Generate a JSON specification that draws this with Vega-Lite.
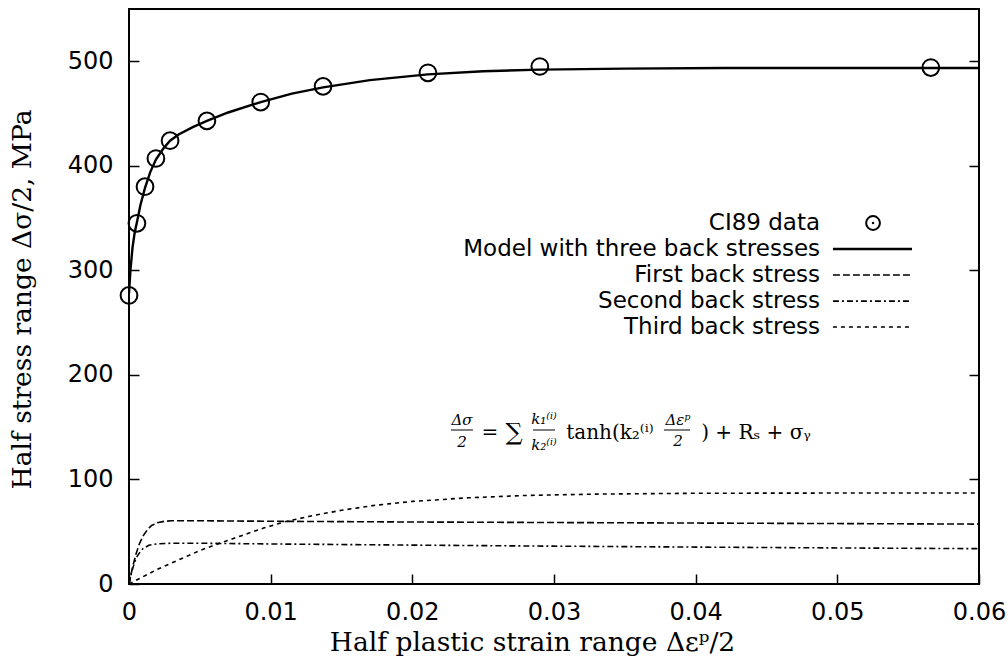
{
  "$schema": "https://vega.github.io/schema/vega-lite/v6.json",
  "width": 850,
  "height": 575,
  "autosize": {"type": "none"},
  "padding": {"left": 129, "top": 9, "right": 28, "bottom": 75},
  "background": "white",
  "config": {
    "view": {"stroke": "black", "strokeWidth": 2},
    "axis": {
      "domain": false,
      "grid": false,
      "labelFlush": false,
      "labelOverlap": false,
      "tickColor": "black",
      "tickWidth": 1.5,
      "tickSize": -10,
      "labelFont": "DejaVu Sans",
      "labelFontSize": 24,
      "labelColor": "black",
      "titleFont": "DejaVu Serif",
      "titleFontSize": 26.5,
      "titleFontWeight": "normal",
      "titleColor": "black"
    }
  },
  "datasets": {
    "points": [
      {"strain": 0.0, "stress": 276},
      {"strain": 0.00056, "stress": 345},
      {"strain": 0.00113, "stress": 380},
      {"strain": 0.0019, "stress": 407},
      {"strain": 0.0029, "stress": 424},
      {"strain": 0.0055, "stress": 443},
      {"strain": 0.0093, "stress": 461},
      {"strain": 0.0137, "stress": 476},
      {"strain": 0.0211, "stress": 489},
      {"strain": 0.029, "stress": 495},
      {"strain": 0.0566, "stress": 494}
    ],
    "curves": [
      {"series": "Model with three back stresses", "strain": 0.0, "stress": 278},
      {"series": "Model with three back stresses", "strain": 0.0001, "stress": 300},
      {"series": "Model with three back stresses", "strain": 0.00025, "stress": 322},
      {"series": "Model with three back stresses", "strain": 0.0004, "stress": 336},
      {"series": "Model with three back stresses", "strain": 0.00056, "stress": 346},
      {"series": "Model with three back stresses", "strain": 0.0008, "stress": 362},
      {"series": "Model with three back stresses", "strain": 0.00113, "stress": 379},
      {"series": "Model with three back stresses", "strain": 0.0015, "stress": 394},
      {"series": "Model with three back stresses", "strain": 0.0019, "stress": 406},
      {"series": "Model with three back stresses", "strain": 0.0024, "stress": 416},
      {"series": "Model with three back stresses", "strain": 0.0029, "stress": 424},
      {"series": "Model with three back stresses", "strain": 0.0035, "stress": 430},
      {"series": "Model with three back stresses", "strain": 0.0045, "stress": 437},
      {"series": "Model with three back stresses", "strain": 0.0055, "stress": 443},
      {"series": "Model with three back stresses", "strain": 0.007, "stress": 451},
      {"series": "Model with three back stresses", "strain": 0.0093, "stress": 461},
      {"series": "Model with three back stresses", "strain": 0.0115, "stress": 469},
      {"series": "Model with three back stresses", "strain": 0.0137, "stress": 475},
      {"series": "Model with three back stresses", "strain": 0.017, "stress": 482},
      {"series": "Model with three back stresses", "strain": 0.0211, "stress": 487.5},
      {"series": "Model with three back stresses", "strain": 0.025, "stress": 490.5},
      {"series": "Model with three back stresses", "strain": 0.029, "stress": 492},
      {"series": "Model with three back stresses", "strain": 0.035, "stress": 493},
      {"series": "Model with three back stresses", "strain": 0.042, "stress": 493.5},
      {"series": "Model with three back stresses", "strain": 0.05, "stress": 493.5},
      {"series": "Model with three back stresses", "strain": 0.06, "stress": 493.5},
      {"series": "First back stress", "strain": 0.0, "stress": 0},
      {"series": "First back stress", "strain": 0.00025, "stress": 16},
      {"series": "First back stress", "strain": 0.0005, "stress": 29},
      {"series": "First back stress", "strain": 0.00075, "stress": 39},
      {"series": "First back stress", "strain": 0.001, "stress": 46},
      {"series": "First back stress", "strain": 0.0013, "stress": 52},
      {"series": "First back stress", "strain": 0.0016, "stress": 56},
      {"series": "First back stress", "strain": 0.002, "stress": 58.5},
      {"series": "First back stress", "strain": 0.0025, "stress": 60},
      {"series": "First back stress", "strain": 0.003, "stress": 60.5},
      {"series": "First back stress", "strain": 0.005, "stress": 60.5},
      {"series": "First back stress", "strain": 0.01, "stress": 60},
      {"series": "First back stress", "strain": 0.02, "stress": 59.3},
      {"series": "First back stress", "strain": 0.03, "stress": 58.8},
      {"series": "First back stress", "strain": 0.04, "stress": 58.3},
      {"series": "First back stress", "strain": 0.05, "stress": 57.8},
      {"series": "First back stress", "strain": 0.06, "stress": 57.3},
      {"series": "Second back stress", "strain": 0.0, "stress": 0},
      {"series": "Second back stress", "strain": 0.0002, "stress": 12},
      {"series": "Second back stress", "strain": 0.0004, "stress": 21},
      {"series": "Second back stress", "strain": 0.0006, "stress": 27},
      {"series": "Second back stress", "strain": 0.0008, "stress": 31},
      {"series": "Second back stress", "strain": 0.001, "stress": 34},
      {"series": "Second back stress", "strain": 0.0014, "stress": 37},
      {"series": "Second back stress", "strain": 0.002, "stress": 38.5},
      {"series": "Second back stress", "strain": 0.003, "stress": 39},
      {"series": "Second back stress", "strain": 0.005, "stress": 39},
      {"series": "Second back stress", "strain": 0.01, "stress": 38.3},
      {"series": "Second back stress", "strain": 0.02, "stress": 37.2},
      {"series": "Second back stress", "strain": 0.03, "stress": 36.2},
      {"series": "Second back stress", "strain": 0.04, "stress": 35.3},
      {"series": "Second back stress", "strain": 0.05, "stress": 34.5},
      {"series": "Second back stress", "strain": 0.06, "stress": 33.8},
      {"series": "Third back stress", "strain": 0.0, "stress": 0},
      {"series": "Third back stress", "strain": 0.001, "stress": 7},
      {"series": "Third back stress", "strain": 0.002, "stress": 14},
      {"series": "Third back stress", "strain": 0.003, "stress": 20},
      {"series": "Third back stress", "strain": 0.004, "stress": 26},
      {"series": "Third back stress", "strain": 0.005, "stress": 32},
      {"series": "Third back stress", "strain": 0.0064, "stress": 39},
      {"series": "Third back stress", "strain": 0.008, "stress": 46.5},
      {"series": "Third back stress", "strain": 0.0095, "stress": 53.5},
      {"series": "Third back stress", "strain": 0.011, "stress": 59.5},
      {"series": "Third back stress", "strain": 0.013, "stress": 65.5},
      {"series": "Third back stress", "strain": 0.015, "stress": 70.5},
      {"series": "Third back stress", "strain": 0.0175, "stress": 75.5},
      {"series": "Third back stress", "strain": 0.02, "stress": 79},
      {"series": "Third back stress", "strain": 0.024, "stress": 82.5},
      {"series": "Third back stress", "strain": 0.028, "stress": 84.7},
      {"series": "Third back stress", "strain": 0.033, "stress": 86},
      {"series": "Third back stress", "strain": 0.04, "stress": 86.8},
      {"series": "Third back stress", "strain": 0.05, "stress": 87},
      {"series": "Third back stress", "strain": 0.06, "stress": 87}
    ],
    "legend": [
      {"series": "CI89 data", "tx": 0.04878, "x1": 0.04969, "x2": 0.05527, "xc": 0.05252, "ly": 345.3},
      {"series": "Model with three back stresses", "tx": 0.04878, "x1": 0.04969, "x2": 0.05527, "xc": 0.05252, "ly": 320.4},
      {"series": "First back stress", "tx": 0.04878, "x1": 0.04969, "x2": 0.05527, "xc": 0.05252, "ly": 295.5},
      {"series": "Second back stress", "tx": 0.04878, "x1": 0.04969, "x2": 0.05527, "xc": 0.05252, "ly": 270.6},
      {"series": "Third back stress", "tx": 0.04878, "x1": 0.04969, "x2": 0.05527, "xc": 0.05252, "ly": 245.8}
    ],
    "eqSmall": [
      {"t": "Δσ", "ex": 0.02351, "ey": 156.8},
      {"t": "2", "ex": 0.02351, "ey": 135.4},
      {"t": "k₁⁽ⁱ⁾", "ex": 0.02929, "ey": 158.2},
      {"t": "k₂⁽ⁱ⁾", "ex": 0.02929, "ey": 133.0},
      {"t": "Δεᵖ", "ex": 0.03875, "ey": 156.4},
      {"t": "2", "ex": 0.03875, "ey": 136.4}
    ],
    "eqBig": [
      {"t": "=", "ex": 0.02548, "ey": 144.4},
      {"t": "tanh(k₂⁽ⁱ⁾", "ex": 0.03395, "ey": 144.4},
      {"t": ") + Rₛ + σᵧ", "ex": 0.04426, "ey": 144.4}
    ],
    "eqSigma": [
      {"t": "∑", "ex": 0.02718, "ey": 144.4}
    ],
    "eqBars": [
      {"b1": 0.02273, "b2": 0.02428, "by": 147.3},
      {"b1": 0.02852, "b2": 0.03007, "by": 147.3},
      {"b1": 0.03776, "b2": 0.03960, "by": 147.3}
    ]
  },
  "layer": [
    {
      "data": {"name": "curves"},
      "transform": [{"filter": "datum.series == 'Model with three back stresses'"}],
      "mark": {"type": "line", "color": "black", "strokeWidth": 2.4, "clip": true},
      "encoding": {
        "x": {"field": "strain", "type": "quantitative", "scale": {"domain": [0, 0.06], "nice": false, "zero": false, "padding": 0},
          "axis": {"values": [0, 0.01, 0.02, 0.03, 0.04, 0.05, 0.06], "labelPadding": 26, "labelExpr": "datum.value == 0 ? '0' : format(datum.value, '.2f')",
            "title": "Half plastic strain range Δεᵖ/2", "titleX": 403, "titleY": 58, "titleBaseline": "middle", "titleAnchor": "middle"}},
        "y": {"field": "stress", "type": "quantitative", "scale": {"domain": [0, 550], "nice": false, "padding": 0},
          "axis": {"values": [0, 100, 200, 300, 400, 500], "labelPadding": 26,
            "title": "Half stress range Δσ/2, MPa", "titleX": -107, "titleY": 290, "titleBaseline": "middle", "titleAngle": -90, "titleAnchor": "middle"}},
        "order": {"field": "strain", "type": "quantitative"}
      }
    },
    {
      "data": {"name": "curves"},
      "transform": [{"filter": "datum.series != 'Model with three back stresses'"}],
      "mark": {"type": "line", "color": "black", "strokeWidth": 1.6, "clip": true},
      "encoding": {
        "x": {"field": "strain", "type": "quantitative"},
        "y": {"field": "stress", "type": "quantitative", "axis": {"orient": "right", "labels": false, "title": null, "values": [100, 200, 300, 400, 500]}},
        "detail": {"field": "series", "type": "nominal"},
        "order": {"field": "strain", "type": "quantitative"},
        "strokeDash": {"field": "series", "type": "nominal", "legend": null,
          "scale": {"domain": ["First back stress", "Second back stress", "Third back stress"], "range": [[7, 3], [6, 3, 2, 3], [4, 4]]}}
      }
    },
    {
      "data": {"name": "points"},
      "mark": {"type": "point", "shape": "circle", "filled": false, "color": "black", "strokeWidth": 2, "size": 280, "opacity": 1},
      "encoding": {
        "x": {"field": "strain", "type": "quantitative"},
        "y": {"field": "stress", "type": "quantitative", "axis": null}
      }
    },
    {
      "data": {"name": "legend"},
      "mark": {"type": "text", "align": "right", "baseline": "middle", "font": "DejaVu Sans", "fontSize": 23, "color": "black"},
      "encoding": {
        "x": {"field": "tx", "type": "quantitative"},
        "y": {"field": "ly", "type": "quantitative", "axis": null},
        "text": {"field": "series"}
      }
    },
    {
      "data": {"name": "legend"},
      "transform": [{"filter": "datum.series == 'Model with three back stresses'"}],
      "mark": {"type": "rule", "color": "black", "strokeWidth": 2.4},
      "encoding": {
        "x": {"field": "x1", "type": "quantitative"},
        "x2": {"field": "x2"},
        "y": {"field": "ly", "type": "quantitative", "axis": null}
      }
    },
    {
      "data": {"name": "legend"},
      "transform": [{"filter": "datum.series != 'Model with three back stresses' && datum.series != 'CI89 data'"}],
      "mark": {"type": "rule", "color": "black", "strokeWidth": 1.6},
      "encoding": {
        "x": {"field": "x1", "type": "quantitative"},
        "x2": {"field": "x2"},
        "y": {"field": "ly", "type": "quantitative", "axis": null},
        "strokeDash": {"field": "series", "type": "nominal", "legend": null}
      }
    },
    {
      "data": {"name": "legend"},
      "transform": [{"filter": "datum.series == 'CI89 data'"}],
      "mark": {"type": "point", "shape": "circle", "filled": false, "color": "black", "strokeWidth": 2, "size": 190, "opacity": 1},
      "encoding": {
        "x": {"field": "xc", "type": "quantitative"},
        "y": {"field": "ly", "type": "quantitative", "axis": null}
      }
    },
    {
      "data": {"name": "legend"},
      "transform": [{"filter": "datum.series == 'CI89 data'"}],
      "mark": {"type": "point", "shape": "circle", "filled": true, "color": "black", "size": 6, "opacity": 1},
      "encoding": {
        "x": {"field": "xc", "type": "quantitative"},
        "y": {"field": "ly", "type": "quantitative", "axis": null}
      }
    },
    {
      "data": {"name": "eqSmall"},
      "mark": {"type": "text", "align": "center", "baseline": "middle", "font": "DejaVu Serif", "fontStyle": "italic", "fontSize": 15, "color": "black"},
      "encoding": {
        "x": {"field": "ex", "type": "quantitative"},
        "y": {"field": "ey", "type": "quantitative", "axis": null},
        "text": {"field": "t"}
      }
    },
    {
      "data": {"name": "eqBig"},
      "mark": {"type": "text", "align": "center", "baseline": "middle", "font": "DejaVu Serif", "fontSize": 20, "color": "black"},
      "encoding": {
        "x": {"field": "ex", "type": "quantitative"},
        "y": {"field": "ey", "type": "quantitative", "axis": null},
        "text": {"field": "t"}
      }
    },
    {
      "data": {"name": "eqSigma"},
      "mark": {"type": "text", "align": "center", "baseline": "middle", "font": "DejaVu Serif", "fontSize": 24, "color": "black"},
      "encoding": {
        "x": {"field": "ex", "type": "quantitative"},
        "y": {"field": "ey", "type": "quantitative", "axis": null},
        "text": {"field": "t"}
      }
    },
    {
      "data": {"name": "eqBars"},
      "mark": {"type": "rule", "color": "black", "strokeWidth": 1},
      "encoding": {
        "x": {"field": "b1", "type": "quantitative"},
        "x2": {"field": "b2"},
        "y": {"field": "by", "type": "quantitative", "axis": null}
      }
    }
  ],
  "resolve": {"axis": {"y": "independent"}}
}
